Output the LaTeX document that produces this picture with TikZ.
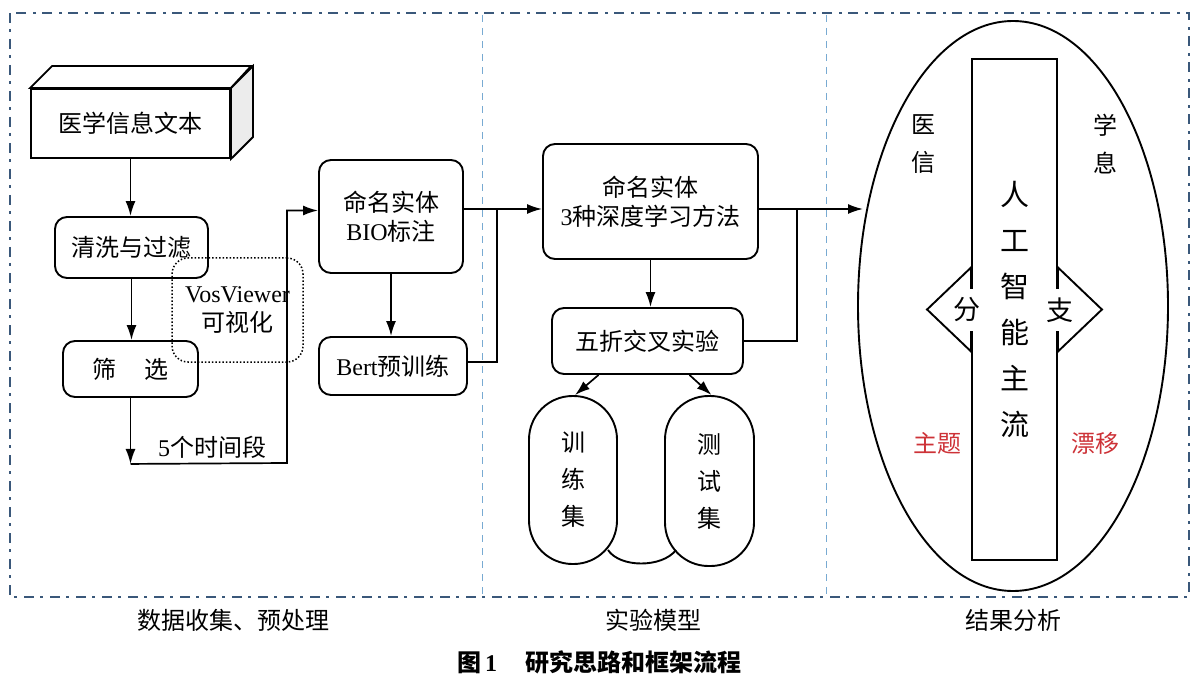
\documentclass[tikz,border=0pt]{standalone}
\usepackage{fontspec}
\setmainfont{Liberation Serif}
\newfontfamily\cjk{Noto Sans CJK SC}
\newfontfamily\latin{Liberation Serif}
\usepackage{tikz}
\usetikzlibrary{calc}
\usetikzlibrary{arrows.meta}
\usetikzlibrary{shapes.geometric}
\usepackage{color}
\definecolor{framedark}{RGB}{58, 88, 122}
\definecolor{framelight}{RGB}{120, 170, 210}
\definecolor{driftred}{RGB}{205, 50, 55}
\newcommand{\entxt}[1]{{\latin #1}}

\tikzset{
  cntext/.style={font=\cjk\fontsize{24}{29}\selectfont, align=center, inner sep=0pt},
  flowbox/.style={cntext, draw, line width=1.9pt, rounded corners=12pt},
  setbox/.style={cntext, draw, line width=1.9pt, rounded corners=43.5pt,
                 font=\cjk\fontsize{24}{37}\selectfont},
  vosbox/.style={cntext, draw, dotted, line width=1.5pt, rounded corners=16pt},
  flowarrow/.style={line width=1.7pt, -{Latex[length=15pt,width=10pt]}},
  flowline/.style={line width=1.7pt},
  framerule/.style={framedark, line width=2.2pt, dash pattern=on 10pt off 6pt on 3pt off 7pt},
  colrule/.style={framelight, line width=1pt, dash pattern=on 7pt off 6pt},
}

\begin{document}
\begin{tikzpicture}[x=1pt, y=-1pt]
            \useasboundingbox (0,0) rectangle (1200,687);
            % Frame and column dividers
            \draw[framerule] (10,13) rectangle (1189,597);
            \draw[colrule]   (482,15) -- (482,595);
            \draw[colrule]   (826,15) -- (826,595);

            % Data collection & preprocessing
            \node[cntext, draw, line width=1.9pt, minimum width=199pt, minimum height=69pt] (src) at (130.5,123.5) {医学信息文本};
            \draw[line width=1.9pt, fill=white]   (src.north west) -- ++(22,-22) -- ++(199,0) -- (src.north east) -- cycle;
            \draw[line width=1.9pt, fill=gray!15] (src.north east) -- ++(22,-22) -- ++(0,71) -- (src.south east) -- cycle;
            \node[flowbox, minimum width=153pt, minimum height=61pt] (clean) at (131.5,247.5) {清洗与过滤};
            \node[flowbox, minimum width=135pt, minimum height=56pt] (filt)  at (130.5,369)   {筛\hspace{28pt}选};
            \node[vosbox,  minimum width=131pt, minimum height=104pt] (vos)  at (237.5,310)   {\entxt{VosViewer}\\可视化};
            \coordinate (turn) at ($(filt.south)+(0,66)$);
            \coordinate (rise) at (287,463);
            \node[cntext] (period) at (212,447) {\entxt{5}个时间段};
            \draw[flowarrow] (src.south)   -- (src.south |- clean.north);
            \draw[flowarrow] (clean.south) -- (clean.south |- filt.north);
            \draw[flowarrow] (filt.south)  -- (turn);

            % Named entity tagging
            \node[flowbox, minimum width=144pt, minimum height=113pt] (bio)  at (391,216.5) {命名实体\\\entxt{BIO}标注};
            \node[flowbox, minimum width=148pt, minimum height=58pt]  (bert) at (393,366)   {\entxt{Bert}预训练};
            \draw[flowarrow] (turn) -- (rise) |- ([yshift=6pt]bio.west);
            \draw[flowarrow] (bio.south) -- (bio.south |- bert.north);

            % Experiment model
            \node[flowbox, minimum width=215pt, minimum height=115pt] (deep) at (650.5,201.5) {命名实体\\\entxt{3}种深度学习方法};
            \node[flowbox, minimum width=191pt, minimum height=66pt]  (five) at (647.5,341)   {五折交叉实验};
            \node[setbox,  minimum width=88pt,  minimum height=168pt] (train) at (573,480)  {训\\练\\集};
            \node[setbox,  minimum width=89pt,  minimum height=170pt] (test)  at (709.5,481) {测\\试\\集};
            \coordinate (join1) at (497,209);
            \coordinate (join2) at (797,209);
            \draw[flowarrow] (bio.east |- join1) -- (deep.west |- join1);
            \draw[flowline]  ([yshift=4pt]bert.east) -| (join1);
            \draw[flowarrow] (deep.south) -- (deep.south |- five.north);
            \draw[flowarrow] ([xshift=-49pt]five.south) -- ([xshift=2pt]train.north);
            \draw[flowarrow] ([xshift=42pt]five.south)  -- ([xshift=2pt]test.north);
            \draw[line width=1.9pt] (608,550) .. controls (620,568) and (662,568) .. (676,550);

            % Result analysis
            \node[draw, ellipse, line width=1.9pt, minimum width=310pt, minimum height=570pt, inner sep=0pt] (res) at (1013,306) {};
            \coordinate (hit) at (863,209);
            \draw[flowarrow] (deep.east |- join2) -- (hit);
            \draw[flowline]  (five.east) -| (join2);
            \node[draw, line width=1.9pt, minimum width=85pt, minimum height=501pt, inner sep=0pt, align=center,
                  font=\cjk\fontsize{29}{46}\selectfont] (core) at (1014.5,309.5) {人\\工\\智\\能\\主\\流};
            \draw[line width=1.9pt] ($(core.west)+(0,-42)$) -- ($(core.west)+(-44,0)$) -- ($(core.west)+(0,42)$) -- cycle;
            \draw[line width=1.9pt] ($(core.east)+(0,-42)$) -- ($(core.east)+(44,0)$)  -- ($(core.east)+(0,42)$) -- cycle;
            \node[cntext, fill=white, inner xsep=1pt, minimum height=42pt, font=\cjk\fontsize{27}{30}\selectfont] (fen) at (967,310)  {分};
            \node[cntext, fill=white, inner xsep=1pt, minimum height=42pt, font=\cjk\fontsize{27}{30}\selectfont] (zhi) at (1060,310) {支};
            \node[cntext, font=\cjk\fontsize{24}{38}\selectfont] (yixin) at (923,144)  {医\\信};
            \node[cntext, font=\cjk\fontsize{24}{38}\selectfont] (xuexi) at (1105,144) {学\\息};
            \node[cntext, text=driftred] (theme) at (937,443)  {主题};
            \node[cntext, text=driftred] (drift) at (1095,443) {漂移};

            % Column labels & caption
            \node[cntext] (lab1) at (233,620)  {数据收集、预处理};
            \node[cntext] (lab2) at (653,620)  {实验模型};
            \node[cntext] (lab3) at (1013,620) {结果分析};
            \node[cntext, font=\cjk\bfseries\fontsize{24}{29}\selectfont] (caption) at (599,662)
                 {图\,\entxt{\bfseries 1}\hspace{28pt}研究思路和框架流程};
        \end{tikzpicture}
\end{document}
